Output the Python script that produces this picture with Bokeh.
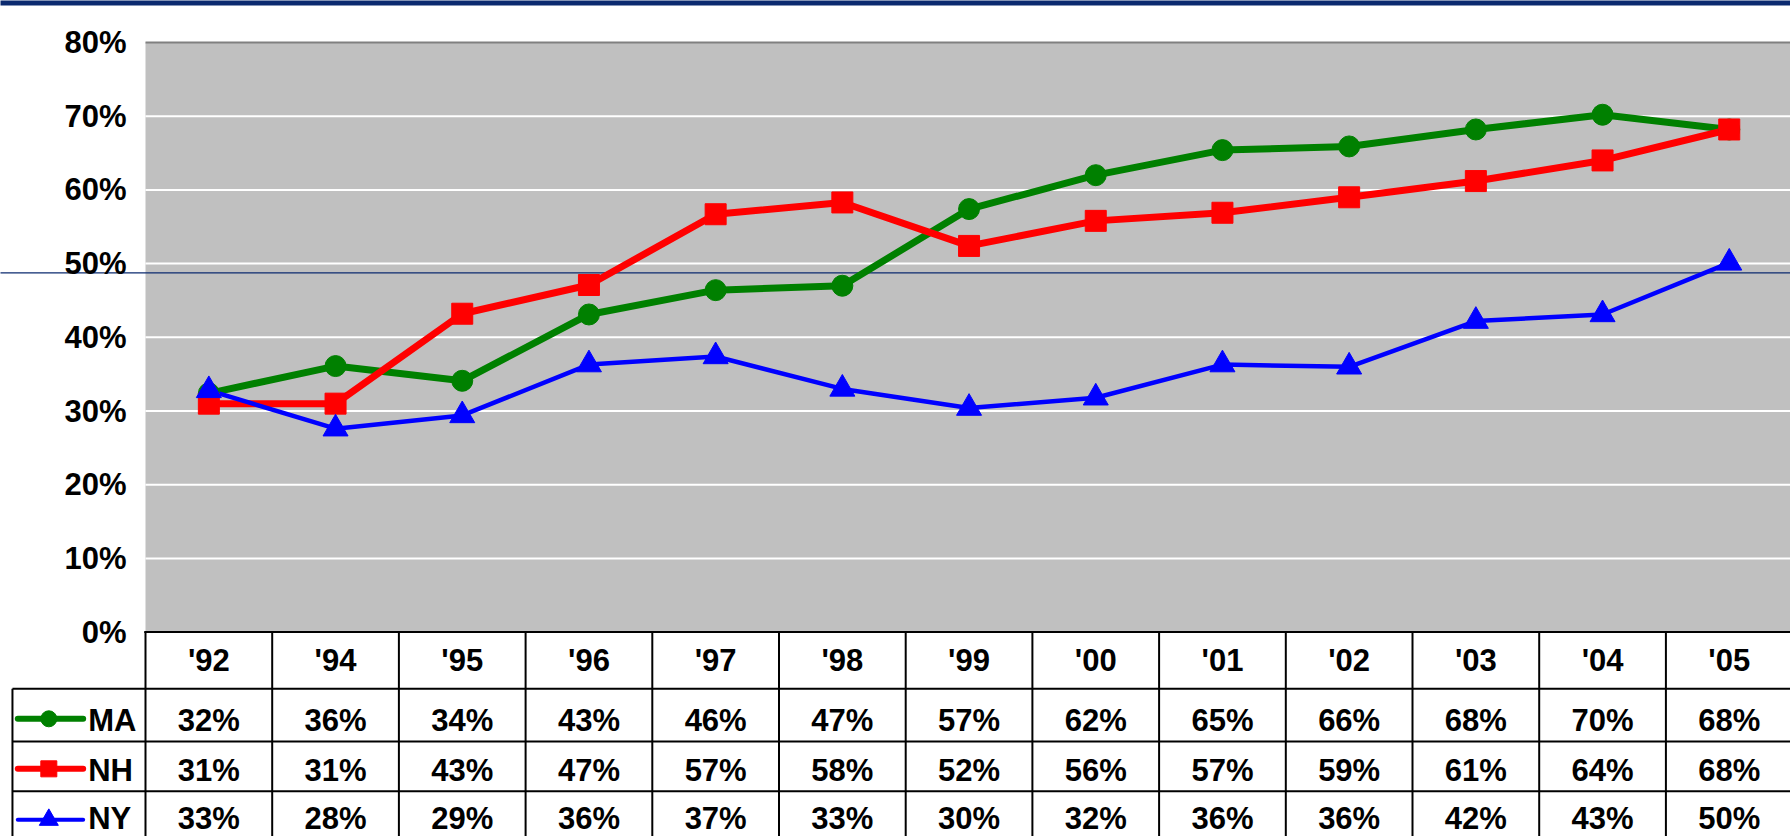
from bokeh.plotting import figure
from bokeh.models import ColumnDataSource, Range1d, LinearAxis, FixedTicker, PrintfTickFormatter
from bokeh.core.properties import value
from bokeh.embed import file_html
from bokeh.resources import INLINE

# ---------------- data ----------------
years = ["'92", "'94", "'95", "'96", "'97", "'98", "'99", "'00", "'01", "'02", "'03", "'04", "'05"]
ma = [32.4, 36.1, 34.1, 43.1, 46.4, 47.0, 57.4, 62.0, 65.4, 65.9, 68.2, 70.2, 68.2]
nh = [31.0, 31.0, 43.2, 47.1, 56.7, 58.3, 52.4, 55.8, 56.9, 59.0, 61.2, 64.0, 68.2]
ny = [32.8, 27.6, 29.4, 36.3, 37.4, 33.0, 30.4, 31.8, 36.3, 36.0, 42.2, 43.1, 50.1]
series_names = ["MA", "NH", "NY"]
y_ticks = [0, 10, 20, 30, 40, 50, 60, 70, 80]

# ---------------- styles / layout ----------------
FONT = "Liberation Sans"
FS = "31px"
GREEN, RED, BLUE = "#008000", "#ff0000", "#0000ff"
GRAY = "#c0c0c0"
NAVY = "#0b2a6f"

W, H = 1790, 836
XR = (-1.6444, 12.4834)
YR = (-27.73, 85.70)
CHART_LEFT, CHART_RIGHT = -0.5, 13.5
LEG_LEFT = -1.55
ROW_LINES = [-7.69, -14.84, -21.59]
TABLE_BOTTOM = -30
ROW_BASE = [-11.99, -18.78, -25.33]      # text y in each data row
ROW_MID = [-11.76, -18.55, -25.47]       # legend sample centre
NAVY_Y = 48.75
TOP_BAR = (85.02, 90)

p = figure(width=W, height=H, x_range=Range1d(*XR), y_range=Range1d(*YR),
           x_axis_type=None, y_axis_type=None, toolbar_location=None,
           output_backend="svg", min_border=0, outline_line_color=None,
           background_fill_color="white", border_fill_color="white")
p.grid.visible = False

n = len(years)
xs = list(range(n))

# slide header bar
p.quad(left=[XR[0] - 1], right=[XR[1] + 1], bottom=[TOP_BAR[0]], top=[TOP_BAR[1]],
       fill_color=NAVY, line_color=None)
# plot area background
p.quad(left=[CHART_LEFT], right=[CHART_RIGHT], bottom=[0], top=[y_ticks[-1]],
       fill_color=GRAY, line_color=None)
# white gridlines
gl = y_ticks[1:-1]
p.segment(x0=[CHART_LEFT] * len(gl), x1=[CHART_RIGHT] * len(gl), y0=gl, y1=gl,
          line_color="white", line_width=2)
# top border
p.segment(x0=[CHART_LEFT], x1=[CHART_RIGHT], y0=[y_ticks[-1]], y1=[y_ticks[-1]],
          line_color="#808080", line_width=2)
# navy slide rule line
p.segment(x0=[XR[0] - 1], x1=[XR[1] + 1], y0=[NAVY_Y], y1=[NAVY_Y],
          line_color=NAVY, line_width=1.2)

# table grid lines
vx = [i - 0.5 for i in range(n + 1)]
p.segment(x0=vx, x1=vx, y0=[0] * len(vx), y1=[TABLE_BOTTOM] * len(vx),
          line_color="black", line_width=2)
p.segment(x0=[LEG_LEFT], x1=[LEG_LEFT], y0=[ROW_LINES[0]], y1=[TABLE_BOTTOM],
          line_color="black", line_width=2)
p.segment(x0=[CHART_LEFT - 0.01], x1=[CHART_RIGHT], y0=[0], y1=[0],
          line_color="black", line_width=2)
p.segment(x0=[LEG_LEFT] * 3, x1=[CHART_RIGHT] * 3, y0=ROW_LINES, y1=ROW_LINES,
          line_color="black", line_width=2)

# data lines
p.line(xs, ma, line_color=GREEN, line_width=7)
p.line(xs, nh, line_color=RED, line_width=7)
p.line(xs, ny, line_color=BLUE, line_width=4.5)
p.scatter(xs, ma, marker="circle", size=21, fill_color=GREEN, line_color=GREEN)
p.scatter(xs, nh, marker="square", size=21, fill_color=RED, line_color=RED)
p.scatter(xs, ny, marker="triangle", size=25, fill_color=BLUE, line_color=BLUE)

# y axis (tick labels)
yax = LinearAxis(fixed_location=CHART_LEFT, ticker=FixedTicker(ticks=y_ticks),
                 formatter=PrintfTickFormatter(format="%d%%"), bounds=(0, 80))
yax.axis_line_color = None
yax.major_tick_line_color = None
yax.minor_tick_line_color = None
yax.major_tick_out = 0
yax.major_tick_in = 0
yax.major_label_standoff = 19
yax.major_label_text_font = FONT
yax.major_label_text_font_style = "bold"
yax.major_label_text_font_size = FS
yax.major_label_text_color = "black"
p.add_layout(yax, "left")

# x axis (table header)
xax = LinearAxis(fixed_location=0, ticker=FixedTicker(ticks=xs),
                 major_label_overrides={i: y for i, y in enumerate(years)})
xax.axis_line_color = None
xax.major_tick_line_color = None
xax.minor_tick_line_color = None
xax.major_tick_out = 0
xax.major_tick_in = 0
xax.major_label_standoff = 11
xax.major_label_text_font = FONT
xax.major_label_text_font_style = "bold"
xax.major_label_text_font_size = FS
xax.major_label_text_color = "black"
p.add_layout(xax, "below")

# table values
for vals, yb in zip([ma, nh, ny], ROW_BASE):
    src = ColumnDataSource(dict(x=xs, y=[yb] * n, t=[f"{v:.0f}%" for v in vals]))
    p.text(x="x", y="y", text="t", source=src, text_align="center",
           text_baseline="alphabetic", text_font=value(FONT),
           text_font_style="bold", text_font_size=FS, text_color="black")

# legend column
LS_X0, LS_X1, LM_X, LT_X = -1.508, -0.992, -1.263, -0.952
colors = [GREEN, RED, BLUE]
markers = ["circle", "square", "triangle"]
msizes = [16, 16, 19]
lwidths = [6, 6, 4]
for name, c, m, ms, lw, ym, yb in zip(series_names, colors, markers, msizes, lwidths, ROW_MID, ROW_BASE):
    p.line([LS_X0, LS_X1], [ym, ym], line_color=c, line_width=lw, line_cap="round")
    p.scatter([LM_X], [ym], marker=m, size=ms, fill_color=c, line_color=c)
    p.text(x=[LT_X], y=[yb], text=[name], text_align="left", text_baseline="alphabetic",
           text_font=value(FONT), text_font_style="bold", text_font_size=FS,
           text_color="black")

open("out.html", "w").write(file_html(p, INLINE))
